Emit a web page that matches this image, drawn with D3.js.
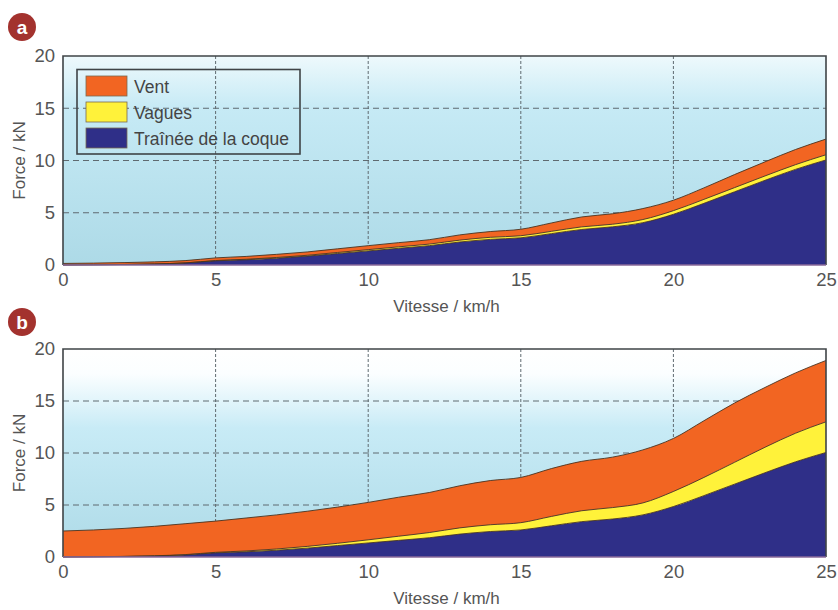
<!DOCTYPE html>
<html>
<head>
<meta charset="utf-8">
<script src="https://cdn.jsdelivr.net/npm/d3@7/dist/d3.min.js"></script>
<style>
  html, body { margin: 0; padding: 0; background: #ffffff; }
  svg { display: block; font-family: "Liberation Sans", Arial, sans-serif; }
</style>
</head>
<body>
<svg id="chart" width="838" height="610"></svg>
<script>
// Vitesse (km/h)
const speeds = [0,1,2,3,4,5,6,7,8,9,10,11,12,13,14,15,16,17,18,19,20,21,22,23,24,25];

// Traînée de la coque (kN), identique pour les deux cas
const hullDrag = [0,0.02,0.05,0.1,0.2,0.4,0.5,0.65,0.85,1.1,1.35,1.6,1.85,2.2,2.45,2.6,3.0,3.4,3.65,4.05,4.85,5.9,7.0,8.1,9.15,10.05];

// Cas a : mer calme, vent faible
const wavesA = [0,0,0,0,0,0.03,0.05,0.07,0.08,0.1,0.12,0.14,0.15,0.18,0.2,0.2,0.22,0.25,0.25,0.3,0.35,0.38,0.4,0.42,0.45,0.5];
const windA  = [0.15,0.16,0.18,0.2,0.22,0.25,0.27,0.3,0.32,0.35,0.38,0.4,0.42,0.5,0.55,0.62,0.8,0.95,1.0,1.05,1.0,1.1,1.25,1.35,1.45,1.5];

// Cas b : mer formée, vent fort
const wavesB = [0,0,0.01,0.02,0.03,0.05,0.08,0.12,0.17,0.22,0.3,0.4,0.5,0.6,0.65,0.7,0.9,1.05,1.1,1.15,1.45,1.75,2.1,2.45,2.75,2.95];
const windB  = [2.5,2.58,2.69,2.83,2.97,3.0,3.17,3.28,3.38,3.48,3.6,3.75,3.85,4.05,4.25,4.35,4.6,4.75,4.85,5.1,5.1,5.45,5.7,5.75,5.8,5.9];

const xTicks = [0,5,10,15,20,25];
const yTicks = [0,5,10,15,20];

const seriesKeys   = ["coque", "vagues", "vent"];
const legendLabels = ["Vent", "Vagues", "Traînée de la coque"];
const legendKeys   = ["vent", "vagues", "coque"];
const colors = { vent: "#f26522", vagues: "#fff23a", coque: "#2f2f88" };

const svg = d3.select("#chart");
const defs = svg.append("defs");

// Fond dégradé de chaque panneau
const gA = defs.append("linearGradient").attr("id", "bgA").attr("x1", 0).attr("y1", 0).attr("x2", 0).attr("y2", 1);
gA.append("stop").attr("offset", "0%").attr("stop-color", "#eef9fc");
gA.append("stop").attr("offset", "25%").attr("stop-color", "#c6eaf5");
gA.append("stop").attr("offset", "100%").attr("stop-color", "#addae7");

const gB = defs.append("linearGradient").attr("id", "bgB").attr("x1", 0).attr("y1", 0).attr("x2", 0).attr("y2", 1);
gB.append("stop").attr("offset", "0%").attr("stop-color", "#ffffff");
gB.append("stop").attr("offset", "12%").attr("stop-color", "#fbfeff");
gB.append("stop").attr("offset", "38%").attr("stop-color", "#c8ebf6");
gB.append("stop").attr("offset", "100%").attr("stop-color", "#addae7");

function buildRows(waves, wind) {
  return speeds.map((s, i) => ({ v: s, coque: hullDrag[i], vagues: waves[i], vent: wind[i] }));
}

function drawPanel(opts) {
  const { top, bottom, left, right, waves, wind, badge, gradient, legend } = opts;
  const x = d3.scaleLinear().domain([0, 25]).range([left, right]);
  const y = d3.scaleLinear().domain([0, 20]).range([bottom, top]);
  const g = svg.append("g");

  // fond
  g.append("rect")
    .attr("x", left).attr("y", top)
    .attr("width", right - left).attr("height", bottom - top)
    .attr("fill", `url(#${gradient})`);

  // grille
  g.append("g").selectAll("line")
    .data(yTicks.filter(t => t > 0 && t < 20))
    .join("line")
    .attr("x1", left).attr("x2", right)
    .attr("y1", d => y(d)).attr("y2", d => y(d))
    .attr("stroke", "#5f6a70").attr("stroke-width", 1)
    .attr("stroke-dasharray", "6,4");
  g.append("g").selectAll("line")
    .data(xTicks.filter(t => t > 0 && t < 25))
    .join("line")
    .attr("y1", top).attr("y2", bottom)
    .attr("x1", d => x(d)).attr("x2", d => x(d))
    .attr("stroke", "#5f6a70").attr("stroke-width", 1)
    .attr("stroke-dasharray", "3,2");

  // aires empilées
  const rows = buildRows(waves, wind);
  const stacked = d3.stack().keys(seriesKeys)(rows);
  const area = d3.area()
    .x(d => x(d.data.v))
    .y0(d => y(d[0]))
    .y1(d => y(d[1]))
    .curve(d3.curveMonotoneX);
  const line = d3.line()
    .x(d => x(d.data.v))
    .y(d => y(d[1]))
    .curve(d3.curveMonotoneX);

  g.append("g").selectAll("path")
    .data(stacked)
    .join("path")
    .attr("d", area)
    .attr("fill", d => colors[d.key]);
  g.append("g").selectAll("path")
    .data(stacked)
    .join("path")
    .attr("d", line)
    .attr("fill", "none")
    .attr("stroke", "#4a3320")
    .attr("stroke-width", 0.9);

  // cadre
  g.append("path")
    .attr("d", `M${left},${bottom}V${top}H${right}V${bottom}`)
    .attr("fill", "none").attr("stroke", "#3f4447").attr("stroke-width", 1.6);
  g.append("line")
    .attr("x1", left).attr("x2", right).attr("y1", bottom).attr("y2", bottom)
    .attr("stroke", "#8a6a9a").attr("stroke-width", 1.6);

  // axes (étiquettes seulement)
  const yAxis = d3.axisLeft(y).tickValues(yTicks).tickSize(0).tickPadding(8);
  const ya = g.append("g").attr("transform", `translate(${left},0)`).call(yAxis);
  ya.select(".domain").remove();
  ya.selectAll("text").attr("font-size", 18.5).attr("fill", "#555")
    .attr("font-family", "Liberation Sans, Arial, sans-serif");

  const xAxis = d3.axisBottom(x).tickValues(xTicks).tickSize(0).tickPadding(8);
  const xa = g.append("g").attr("transform", `translate(0,${bottom})`).call(xAxis);
  xa.select(".domain").remove();
  xa.selectAll("text").attr("font-size", 18.5).attr("fill", "#555")
    .attr("font-family", "Liberation Sans, Arial, sans-serif");

  // titres d'axes
  g.append("text")
    .attr("x", (left + right) / 2 + 2).attr("y", bottom + 47)
    .attr("text-anchor", "middle")
    .attr("font-size", 17).attr("fill", "#555")
    .text("Vitesse / km/h");
  g.append("text")
    .attr("transform", `translate(25,${(top + bottom) / 2}) rotate(-90)`)
    .attr("text-anchor", "middle")
    .attr("font-size", 17).attr("fill", "#555")
    .text("Force / kN");

  // pastille
  g.append("circle")
    .attr("cx", 22).attr("cy", badge.cy).attr("r", 14)
    .attr("fill", "#a3322e");
  g.append("text")
    .attr("x", 22).attr("y", badge.cy + 6.5)
    .attr("text-anchor", "middle")
    .attr("font-size", 19).attr("font-weight", "bold").attr("fill", "#ffffff")
    .text(badge.label);

  // légende
  if (legend) {
    const lg = g.append("g");
    lg.append("rect")
      .attr("x", 77).attr("y", 69.5).attr("width", 223).attr("height", 84.5)
      .attr("fill", "none").attr("stroke", "#3f4447").attr("stroke-width", 1.6);
    const items = lg.selectAll("g.item")
      .data(legendKeys.map((k, i) => ({ key: k, label: legendLabels[i] })))
      .join("g").attr("class", "item")
      .attr("transform", (d, i) => `translate(86,${76 + i * 26})`);
    items.append("rect")
      .attr("width", 41).attr("height", 20)
      .attr("fill", d => colors[d.key])
      .attr("stroke", "#7a6a50").attr("stroke-width", 0.8);
    items.append("text")
      .attr("x", 48).attr("y", 16.5)
      .attr("font-size", 17.5).attr("fill", "#444")
      .text(d => d.label);
  }
}

drawPanel({
  top: 56, bottom: 265, left: 63, right: 826,
  waves: wavesA, wind: windA,
  badge: { cy: 27, label: "a" }, gradient: "bgA", legend: true
});

drawPanel({
  top: 349, bottom: 557, left: 63, right: 826,
  waves: wavesB, wind: windB,
  badge: { cy: 322, label: "b" }, gradient: "bgB", legend: false
});
</script>
</body>
</html>
